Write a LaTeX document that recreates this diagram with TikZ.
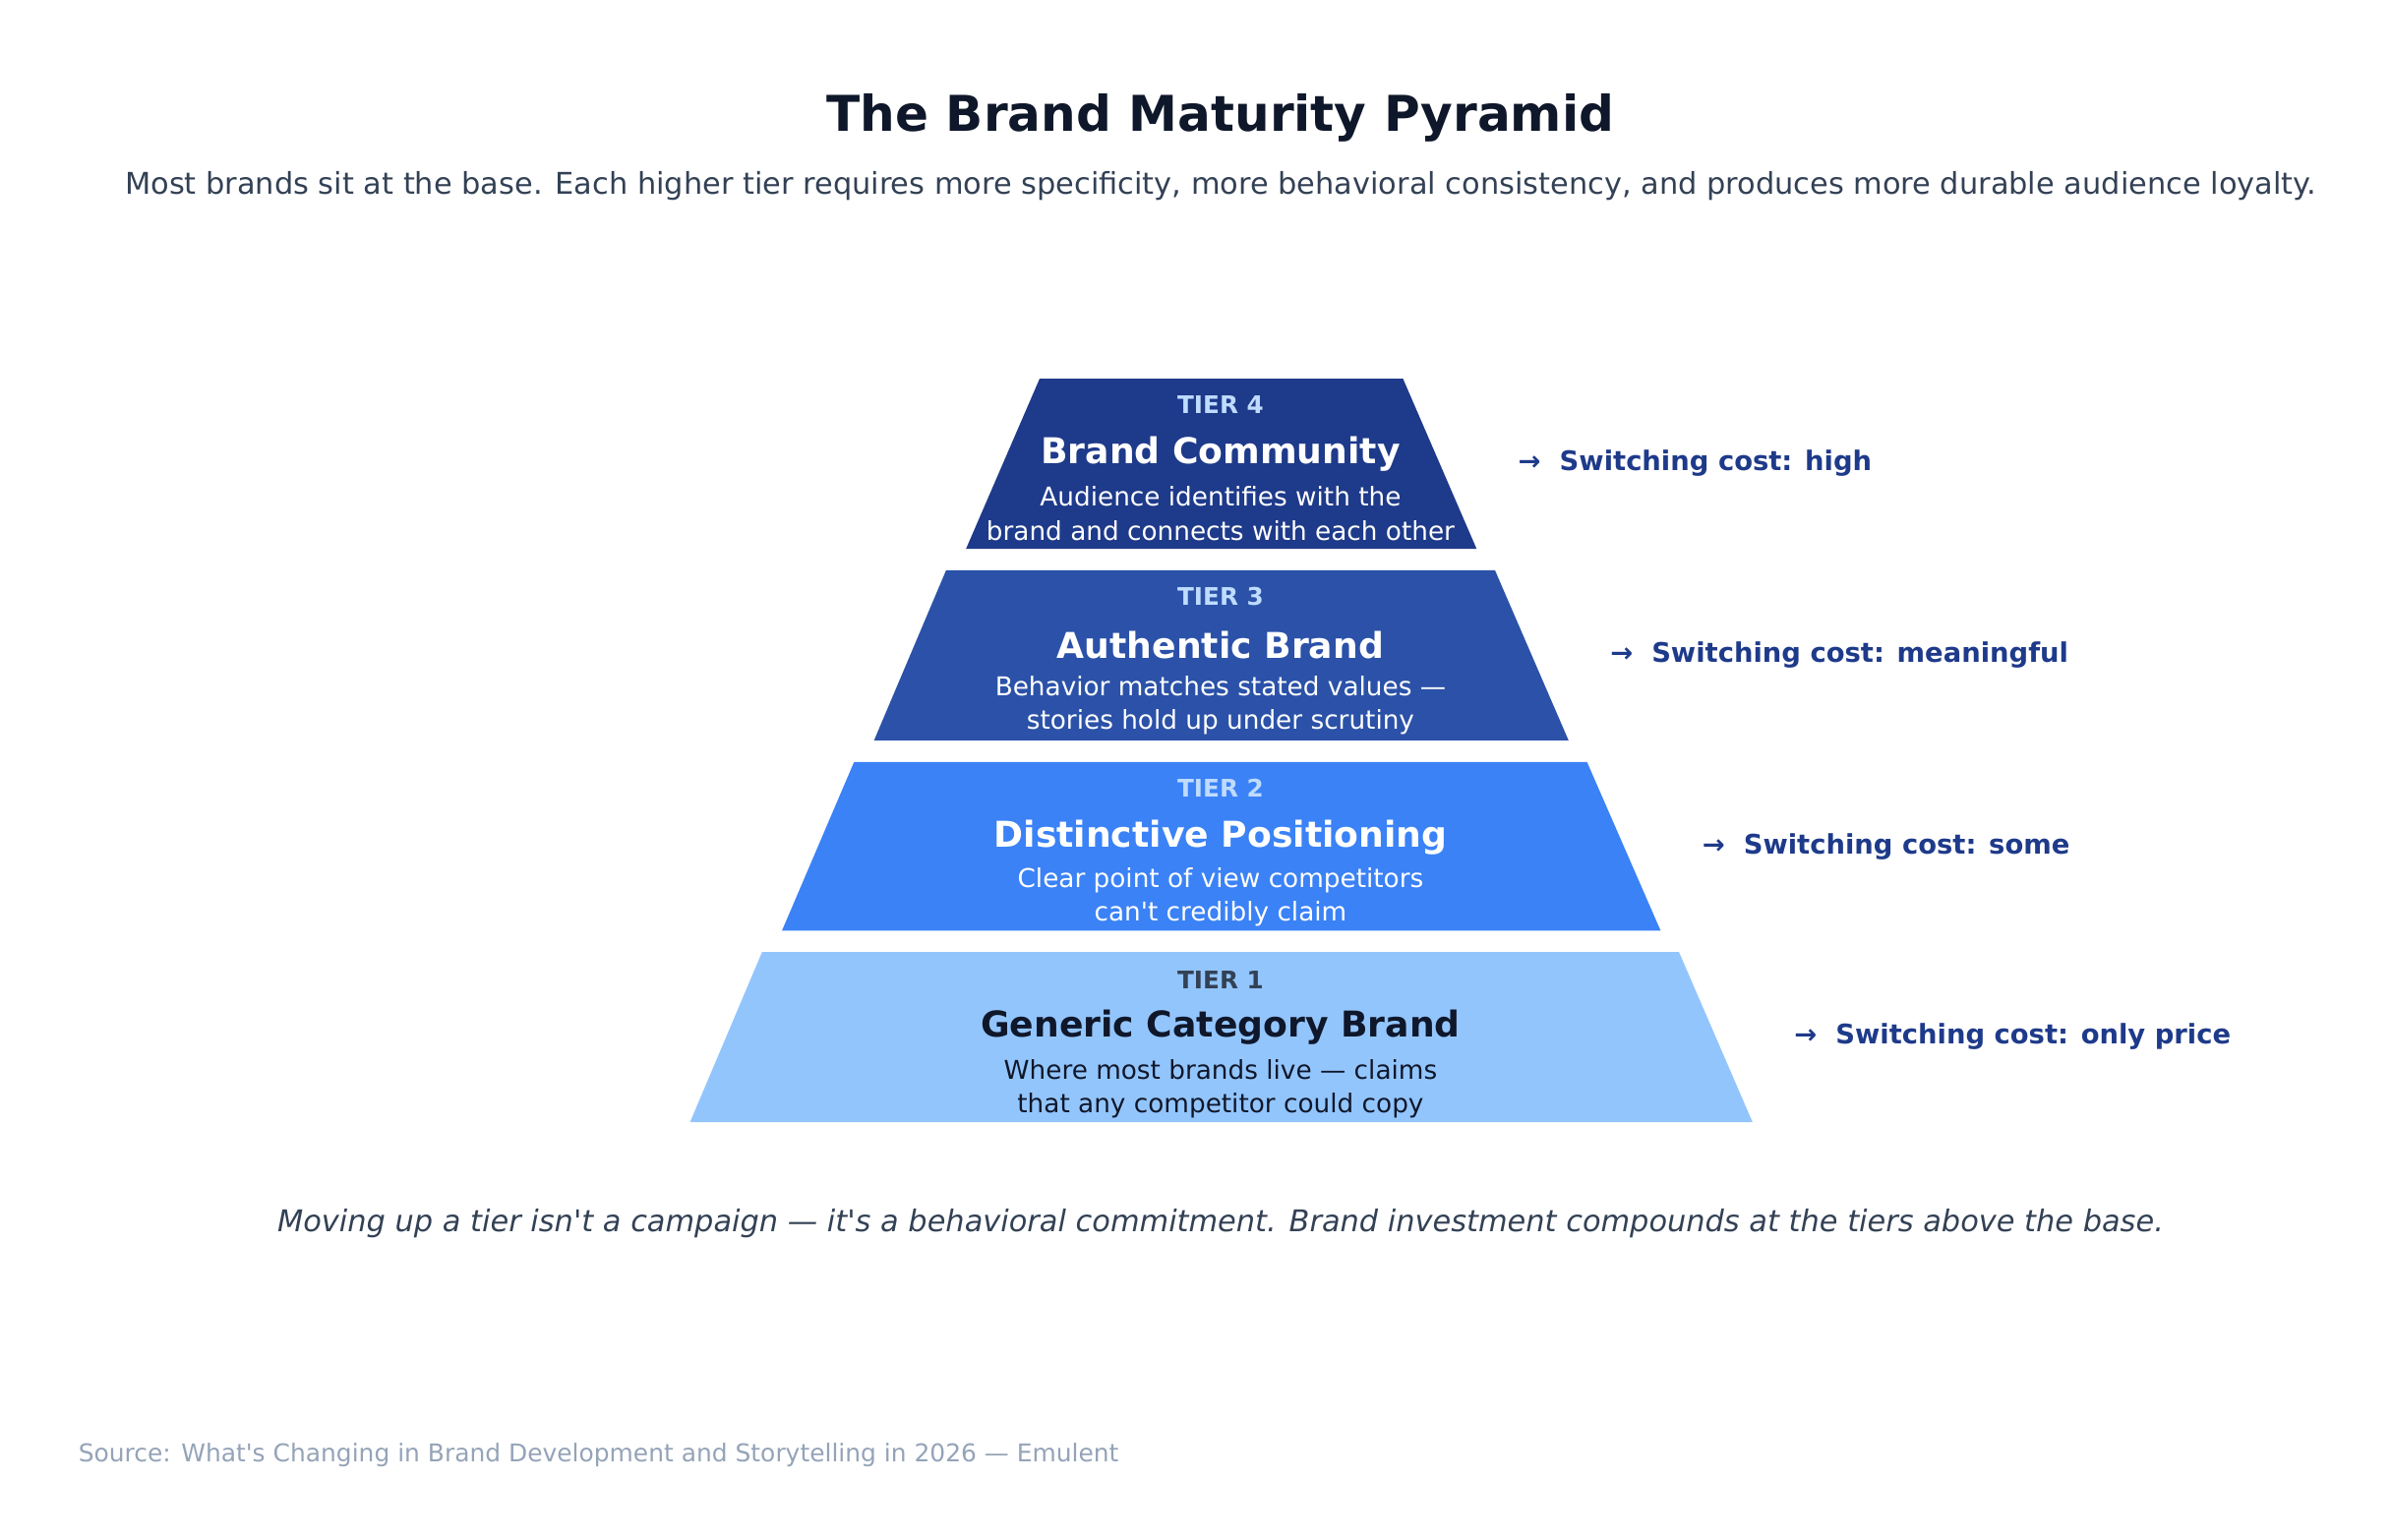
\documentclass[tikz,border=0pt]{standalone}
\usepackage{fontspec}
\setmainfont{DejaVu Sans}
\usetikzlibrary{positioning}
\definecolor{tierfour}{HTML}{1E3A8A}
\definecolor{tierthree}{HTML}{2B52A8}
\definecolor{tiertwo}{HTML}{3B82F6}
\definecolor{tierone}{HTML}{93C5FD}
\definecolor{ink}{HTML}{0F172A}
\definecolor{slate}{HTML}{334155}
\definecolor{paletag}{HTML}{BFDBFE}
\definecolor{muted}{HTML}{94A3B8}
\begin{document}
\begin{tikzpicture}[x=0.02cm,y=-0.02cm,
    tag/.style={font=\fontsize{9}{10}\selectfont\bfseries},
    tiername/.style={font=\fontsize{13.2}{15}\selectfont\bfseries},
    desc/.style={font=\fontsize{9.6}{12.5}\selectfont,align=center},
    cost/.style={anchor=west,text=tierfour,font=\fontsize{10}{11}\selectfont\bfseries}]
       \useasboundingbox (0,0) rectangle (1560,1004);

       \node[text=ink,font=\fontsize{18.3}{21}\selectfont\bfseries] (title) at (796,77) {The Brand Maturity Pyramid};
       \node[text=slate,font=\fontsize{11.1}{13}\selectfont] (subtitle) at (796,121) {Most brands sit at the base. Each higher tier requires more specificity, more behavioral consistency, and produces more durable audience loyalty.};

       % tiers, top to bottom
       \fill[tierfour] (678,247) -- (915,247) -- (963,358) -- (630,358) -- cycle;
       \fill[tierthree] (617,372) -- (975,372) -- (1023,483) -- (570,483) -- cycle;
       \fill[tiertwo] (557,497) -- (1035,497) -- (1083,607) -- (510,607) -- cycle;
       \fill[tierone] (497,621) -- (1095,621) -- (1143,732) -- (450,732) -- cycle;

       \node[tag,text=paletag] (tag4) at (796,264) {TIER 4};
       \node[tiername,text=white] (name4) at (796,296) {Brand Community};
       \node[desc,text=white] (desc4) at (796,335) {Audience identifies with the\\brand and connects with each other};

       \node[tag,text=paletag] (tag3) at (796,389) {TIER 3};
       \node[tiername,text=white] (name3) at (796,421) {Authentic Brand};
       \node[desc,text=white] (desc3) at (796,460) {Behavior matches stated values —\\stories hold up under scrutiny};

       \node[tag,text=paletag] (tag2) at (796,514) {TIER 2};
       \node[tiername,text=white] (name2) at (796,546) {Distinctive Positioning};
       \node[desc,text=white] (desc2) at (796,585) {Clear point of view competitors\\can\textquotesingle t credibly claim};

       \node[tag,text=slate] (tag1) at (796,639) {TIER 1};
       \node[tiername,text=ink] (name1) at (796,670) {Generic Category Brand};
       \node[desc,text=ink] (desc1) at (796,710) {Where most brands live — claims\\that any competitor could copy};

       \node[cost] (cost4) at (984,302) {→\ \ Switching cost: high};
       \node[cost] (cost3) at (1044,427) {→\ \ Switching cost: meaningful};
       \node[cost] (cost2) at (1104,552) {→\ \ Switching cost: some};
       \node[cost] (cost1) at (1164,676) {→\ \ Switching cost: only price};

       \node[text=slate,font=\fontsize{11.1}{13}\selectfont\itshape] (note) at (796,798) {Moving up a tier isn\textquotesingle t a campaign — it\textquotesingle s a behavioral commitment. Brand investment compounds at the tiers above the base.};
       \node[anchor=west,text=muted,font=\fontsize{9.1}{11}\selectfont] (source) at (45,949) {Source: What\textquotesingle s Changing in Brand Development and Storytelling in 2026 — Emulent};
\end{tikzpicture}
\end{document}
